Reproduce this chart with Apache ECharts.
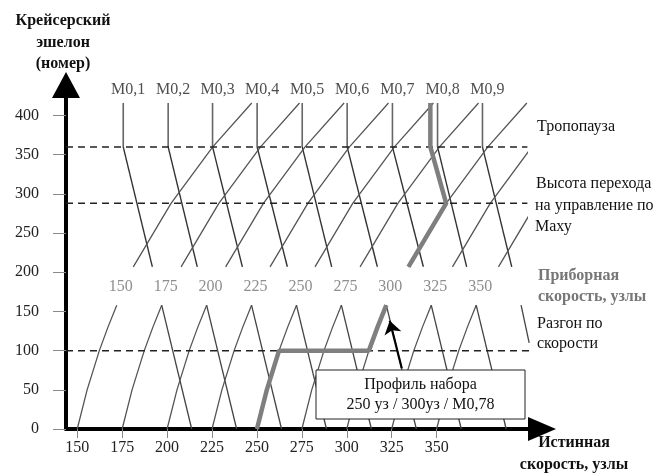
<!DOCTYPE html>
<html>
<head>
<meta charset="utf-8">
<script src="https://cdn.jsdelivr.net/npm/echarts@6/dist/echarts.min.js"></script>
<style>
html,body{margin:0;padding:0;background:#fff}
#chart{width:655px;height:473px}
</style>
</head>
<body>
<div id="chart"></div>
<script>
// Axis ticks: flight level (y) and true airspeed in knots (x)
const flTicks = [0, 50, 100, 150, 200, 250, 300, 350, 400];
const tasTicks = [150, 175, 200, 225, 250, 275, 300, 325, 350];

// Key flight levels
const tropopauseFl = 360;
const machChangeFl = 288;
const speedChangeFl = 100;

// Mach lines: constant TAS above the tropopause, drifting right below it
const machNames = ['M0,1', 'M0,2', 'M0,3', 'M0,4', 'M0,5', 'M0,6', 'M0,7', 'M0,8', 'M0,9'];
const machTasTop = [175.6, 200.6, 225.3, 250.1, 275.2, 300.2, 325.4, 350.5, 375.5];
const machTasLow = [191.8, 216.8, 241.9, 266.9, 291.6, 317.0, 342.6, 366.7, 391.8];
const machTopFl = 416;
const machLowFl = 207;

// Upper band IAS lines: TAS at FL207 and the TAS gain along each line
const upIasTas = [181.2, 207.8, 232.6, 257.3, 282.3, 307.4, 334.3, 358.8, 384.4];
const upFl = [207, 288, 360, 416];
const upGain = [0, 21.0, 44.2, 65.9];

// Lower band IAS lines (labelled), rising from TAS = IAS at FL0
const lowIas = [150, 175, 200, 225, 250, 275, 300, 325, 350];
const lowFl = [0, 50, 100, 130, 158];
const lowGain = [0, 5.5, 12.3, 17.1, 22.0];
const lowDescent = 16.7;          // TAS gain from a peak back down to FL0
const stubIas = 375;              // only the top of its falling leg is drawn
const stubEnd = [401.5, 110];

// Climb profile 250 kt / 300 kt / M0.78
const climbIas1 = 250;
const climbIas2 = 300;
const climbMachTas = 346.5;
const climbUpIndex = 6;           // upper IAS line for 300 kt

// Arrow from the note box to the profile
const arrowFrom = [330.6, 77.5];
const arrowTo = [323.9, 138.1];

const FONT = '"Liberation Serif", "Times New Roman", serif';

const series = [];
function addLine(points, color, width, grid, extra) {
  series.push(Object.assign({
    type: 'line', xAxisIndex: grid, yAxisIndex: grid, data: points,
    symbol: 'none', silent: true, animation: false,
    lineStyle: { color: color, width: width }
  }, extra || {}));
}

// Mach lines
machTasTop.forEach((t, i) => {
  addLine([[t, machTopFl], [t, tropopauseFl]], '#666', 1.6, 0);
  addLine([[t, tropopauseFl], [machTasLow[i], machLowFl]], '#333', 1.4, 0);
});

// Upper IAS lines
upIasTas.forEach(t => {
  addLine(upFl.map((fl, k) => [t + upGain[k], fl]), '#555', 1.3, 0);
});

// Lower IAS triangles
lowIas.forEach((ias, i) => {
  addLine(lowFl.map((fl, k) => [ias + lowGain[k], fl]), '#555', 1.3, 0);
  if (i > 0) {
    const peak = ias + lowGain[lowGain.length - 1];
    addLine([[peak, lowFl[lowFl.length - 1]], [peak + lowDescent, 0]], '#444', 1.3, 0);
  }
});
const stubPeak = stubIas + lowGain[lowGain.length - 1];
addLine([[stubPeak, lowFl[lowFl.length - 1]], stubEnd], '#444', 1.3, 1);

// Dashed reference levels
function dashed(fl, endTas) {
  addLine([[143.75, fl], [endTas, fl]], '#222', 1.5, 1,
    { lineStyle: { color: '#222', width: 1.5, type: [7, 5] } });
}
dashed(tropopauseFl, 400.5);
dashed(machChangeFl, 400.5);
dashed(speedChangeFl, 402);

// Climb profile, lower part
const lowProfile = [];
lowFl.forEach((fl, k) => { if (fl <= speedChangeFl) lowProfile.push([climbIas1 + lowGain[k], fl]); });
lowFl.forEach((fl, k) => { if (fl >= speedChangeFl) lowProfile.push([climbIas2 + lowGain[k], fl]); });
addLine(lowProfile, '#7f7f7f', 4.5, 0, { z: 5 });

// Climb profile, upper part
const upBase = upIasTas[climbUpIndex];
const upProfile = [
  [upBase + upGain[0], upFl[0]],
  [upBase + upGain[1], machChangeFl],
  [climbMachTas, tropopauseFl],
  [climbMachTas, machTopFl]
];
addLine(upProfile, '#7f7f7f', 4.5, 0, { z: 5 });

// Mach labels
series.push({
  type: 'scatter', xAxisIndex: 1, yAxisIndex: 1, symbolSize: 0, silent: true, animation: false,
  data: machTasTop.map((t, i) => ({ value: [t, machTopFl], name: machNames[i] })),
  label: { show: true, position: 'top', distance: 5, offset: [5, 0], formatter: p => p.name,
    fontFamily: FONT, fontSize: 16, color: '#222' }
});

// IAS labels above the peaks
series.push({
  type: 'scatter', xAxisIndex: 1, yAxisIndex: 1, symbolSize: 0, silent: true, animation: false,
  data: lowIas.map(ias => ({ value: [ias + lowGain[lowGain.length - 1], lowFl[lowFl.length - 1]], name: String(ias) })),
  label: { show: true, position: 'top', distance: 10, offset: [4, 0], formatter: p => p.name,
    fontFamily: FONT, fontSize: 16, color: '#707070' }
});

// Arrow pointing at the profile
series.push({
  type: 'lines', coordinateSystem: 'cartesian2d', xAxisIndex: 1, yAxisIndex: 1,
  silent: true, animation: false, z: 200,
  symbol: ['none', 'arrow'], symbolSize: 13,
  lineStyle: { color: '#000', width: 2.2, opacity: 1 },
  data: [{ coords: [arrowFrom, arrowTo] }]
});

function txt(x, y, s, o) {
  return Object.assign({ type: 'text', x: x, y: y, z: 100, silent: true,
    style: Object.assign({ text: s, fill: '#111', fontFamily: FONT, fontSize: 16,
      align: 'left', verticalAlign: 'middle' }, o || {}) });
}
const bold = { fontWeight: 'bold' };
const grayBold = { fontWeight: 'bold', fill: '#777' };

const chart = echarts.init(document.getElementById('chart'), null, { renderer: 'canvas' });
chart.setOption({
  animation: false,
  backgroundColor: '#fff',
  grid: [
    { left: 66, top: 85, width: 460.5, bottom: 44 },
    { left: 66, top: 85, right: 113, bottom: 44 }
  ],
  xAxis: [
    { gridIndex: 0, type: 'value', min: 143.75, max: 400, show: false },
    { gridIndex: 1, type: 'value', min: 143.75, max: 408.64,
      axisLine: { show: true, onZero: false, symbol: ['none', 'triangle'], symbolSize: [24, 28],
        lineStyle: { color: '#000', width: 4 } },
      axisTick: { show: true, customValues: tasTicks, length: 9, lineStyle: { color: '#888', width: 1 } },
      axisLabel: { customValues: tasTicks, margin: 11, fontFamily: FONT, fontSize: 16, color: '#222' },
      splitLine: { show: false } }
  ],
  yAxis: [
    { gridIndex: 0, type: 'value', min: 0, max: 439, show: false },
    { gridIndex: 1, type: 'value', min: 0, max: 439,
      axisLine: { show: true, onZero: false, symbol: ['none', 'triangle'], symbolSize: [28, 26],
        lineStyle: { color: '#000', width: 4 } },
      axisTick: { show: true, customValues: flTicks, length: 13, lineStyle: { color: '#888', width: 1 } },
      axisLabel: { customValues: flTicks, margin: 27, fontFamily: FONT, fontSize: 16, color: '#222' },
      splitLine: { show: false } }
  ],
  series: series,
  graphic: [
    txt(63, 21, 'Крейсерский', Object.assign({ align: 'center' }, bold)),
    txt(63, 43, 'эшелон', Object.assign({ align: 'center' }, bold)),
    txt(63, 64, '(номер)', Object.assign({ align: 'center' }, bold)),
    txt(537, 127, 'Тропопауза'),
    txt(536, 184, 'Высота перехода'),
    txt(535, 206, 'на управление по'),
    txt(535, 227, 'Маху'),
    txt(538, 276, 'Приборная', grayBold),
    txt(538, 297, 'скорость, узлы', grayBold),
    txt(537, 324, 'Разгон по'),
    txt(537, 344, 'скорости'),
    txt(574, 443, 'Истинная', Object.assign({ align: 'center' }, bold)),
    txt(574, 465, 'скорость, узлы', Object.assign({ align: 'center' }, bold)),
    { type: 'rect', z: 100, silent: true, shape: { x: 316, y: 370, width: 209, height: 49 },
      style: { fill: '#fff', stroke: '#222', lineWidth: 1 } },
    txt(420.5, 385, 'Профиль набора', { align: 'center' }),
    txt(420.5, 405, '250 уз / 300уз / M0,78', { align: 'center' })
  ]
});
</script>
</body>
</html>
